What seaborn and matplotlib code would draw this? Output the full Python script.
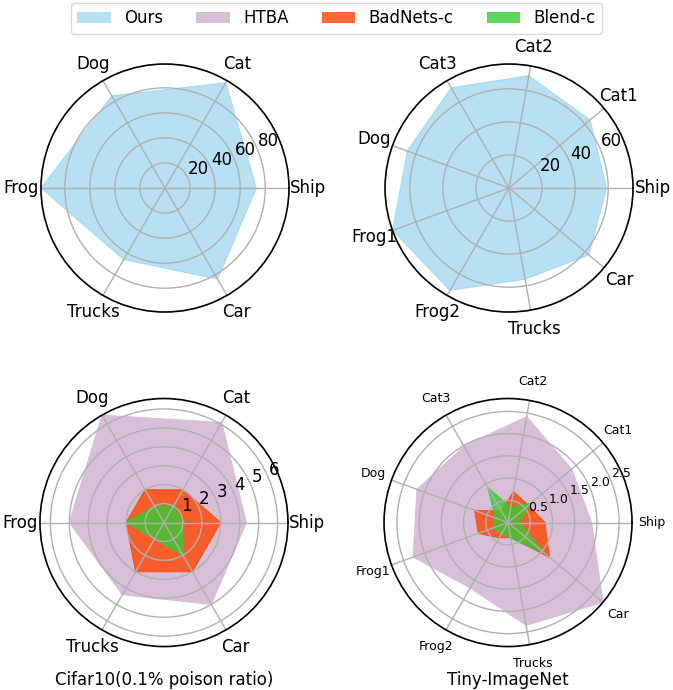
import matplotlib.pyplot as plt
import seaborn as sns
import numpy as np
from matplotlib.patches import Patch

# categories for the two datasets
labels_cifar = ['Ship', 'Cat', 'Dog', 'Frog', 'Trucks', 'Car']
labels_tiny = ['Ship', 'Cat1', 'Cat2', 'Cat3', 'Dog', 'Frog1', 'Frog2', 'Trucks', 'Car']

# top row: our method
ours_cifar = [73, 97, 85, 99, 66, 84]
ours_tiny = [59, 64, 69, 70, 65.5, 75, 71.5, 56, 63]

# bottom row: baselines
htba_cifar = [4.35, 6.1, 6.55, 5.0, 4.4, 5.0]
badnets_cifar = [3, 2, 2, 2, 3, 3]
blend_cifar = [1, 1, 1, 2, 1, 2]

htba_tiny = [1.88, 1.87, 2.42, 1.98, 2.18, 2.27, 1.7, 2.35, 2.79]
badnets_tiny = [0.83, 0.6, 0.71, 0.3, 0.8, 0.71, 0.4, 0.34, 1.22]
blend_tiny = [0.25, 0.68, 0.35, 0.91, 0.3, 0.35, 0.3, 0.36, 1.1]

# radial tick values
rticks_ours_cifar = [20, 40, 60, 80]
rticks_ours_tiny = [20, 40, 60]
rticks_base_cifar = [1, 2, 3, 4, 5, 6]
rticks_base_tiny = [0.5, 1.0, 1.5, 2.0, 2.5]

series_names = ['Ours', 'HTBA', 'BadNets-c', 'Blend-c']
palette = sns.color_palette(['skyblue', 'thistle', 'orangered', 'limegreen'])
alphas = [0.6, 1.0, 0.8, 0.8]
style = {name: (c, a) for name, c, a in zip(series_names, palette, alphas)}

plt.rcParams['grid.linewidth'] = 1.0
plt.rcParams['axes.linewidth'] = 1.2


def radar(ax, labels, series, rticks, fontsize):
    angles = np.linspace(0, 2 * np.pi, len(labels), endpoint=False)
    top = 0
    for name, vals in series:
        c, a = style[name]
        ax.fill(angles, vals, color=c, alpha=a, linewidth=0.8)
        top = max(top, max(vals))
    ax.set_xticks(angles)
    ax.set_xticklabels(labels, fontsize=fontsize)
    ax.set_yticks(rticks)
    ax.set_yticklabels([f"{t:g}" if isinstance(t, int) else f"{t:.1f}" for t in rticks],
                       fontsize=fontsize)
    ax.set_ylim(0, top)


fig = plt.figure(figsize=(6.73, 6.9), dpi=100)
w, h = 248 / 673, 248 / 690
ax_tl = fig.add_axes([0.0609, 0.5478, w, h], polar=True)
ax_tr = fig.add_axes([0.5721, 0.5478, w, h], polar=True)
ax_bl = fig.add_axes([0.0594, 0.0630, w, h], polar=True)
ax_br = fig.add_axes([0.5706, 0.0630, w, h], polar=True)

radar(ax_tl, labels_cifar, [('Ours', ours_cifar)], rticks_ours_cifar, 12)
radar(ax_tr, labels_tiny, [('Ours', ours_tiny)], rticks_ours_tiny, 12)
radar(ax_bl, labels_cifar, [('HTBA', htba_cifar), ('BadNets-c', badnets_cifar),
                            ('Blend-c', blend_cifar)], rticks_base_cifar, 12)
radar(ax_br, labels_tiny, [('HTBA', htba_tiny), ('BadNets-c', badnets_tiny),
                           ('Blend-c', blend_tiny)], rticks_base_tiny, 9)

fig.text(0.2437, 0.0145, 'Cifar10(0.1% poison ratio)', ha='center', va='center', fontsize=12)
fig.text(0.7542, 0.0145, 'Tiny-ImageNet', ha='center', va='center', fontsize=12)

handles = [Patch(facecolor=style[n][0], alpha=style[n][1], label=n) for n in series_names]
fig.legend(handles=handles, loc='upper center', ncol=4, fontsize=12,
           bbox_to_anchor=(0.5, 1.0), borderaxespad=0.15)

plt.savefig('out.png', dpi=100)
